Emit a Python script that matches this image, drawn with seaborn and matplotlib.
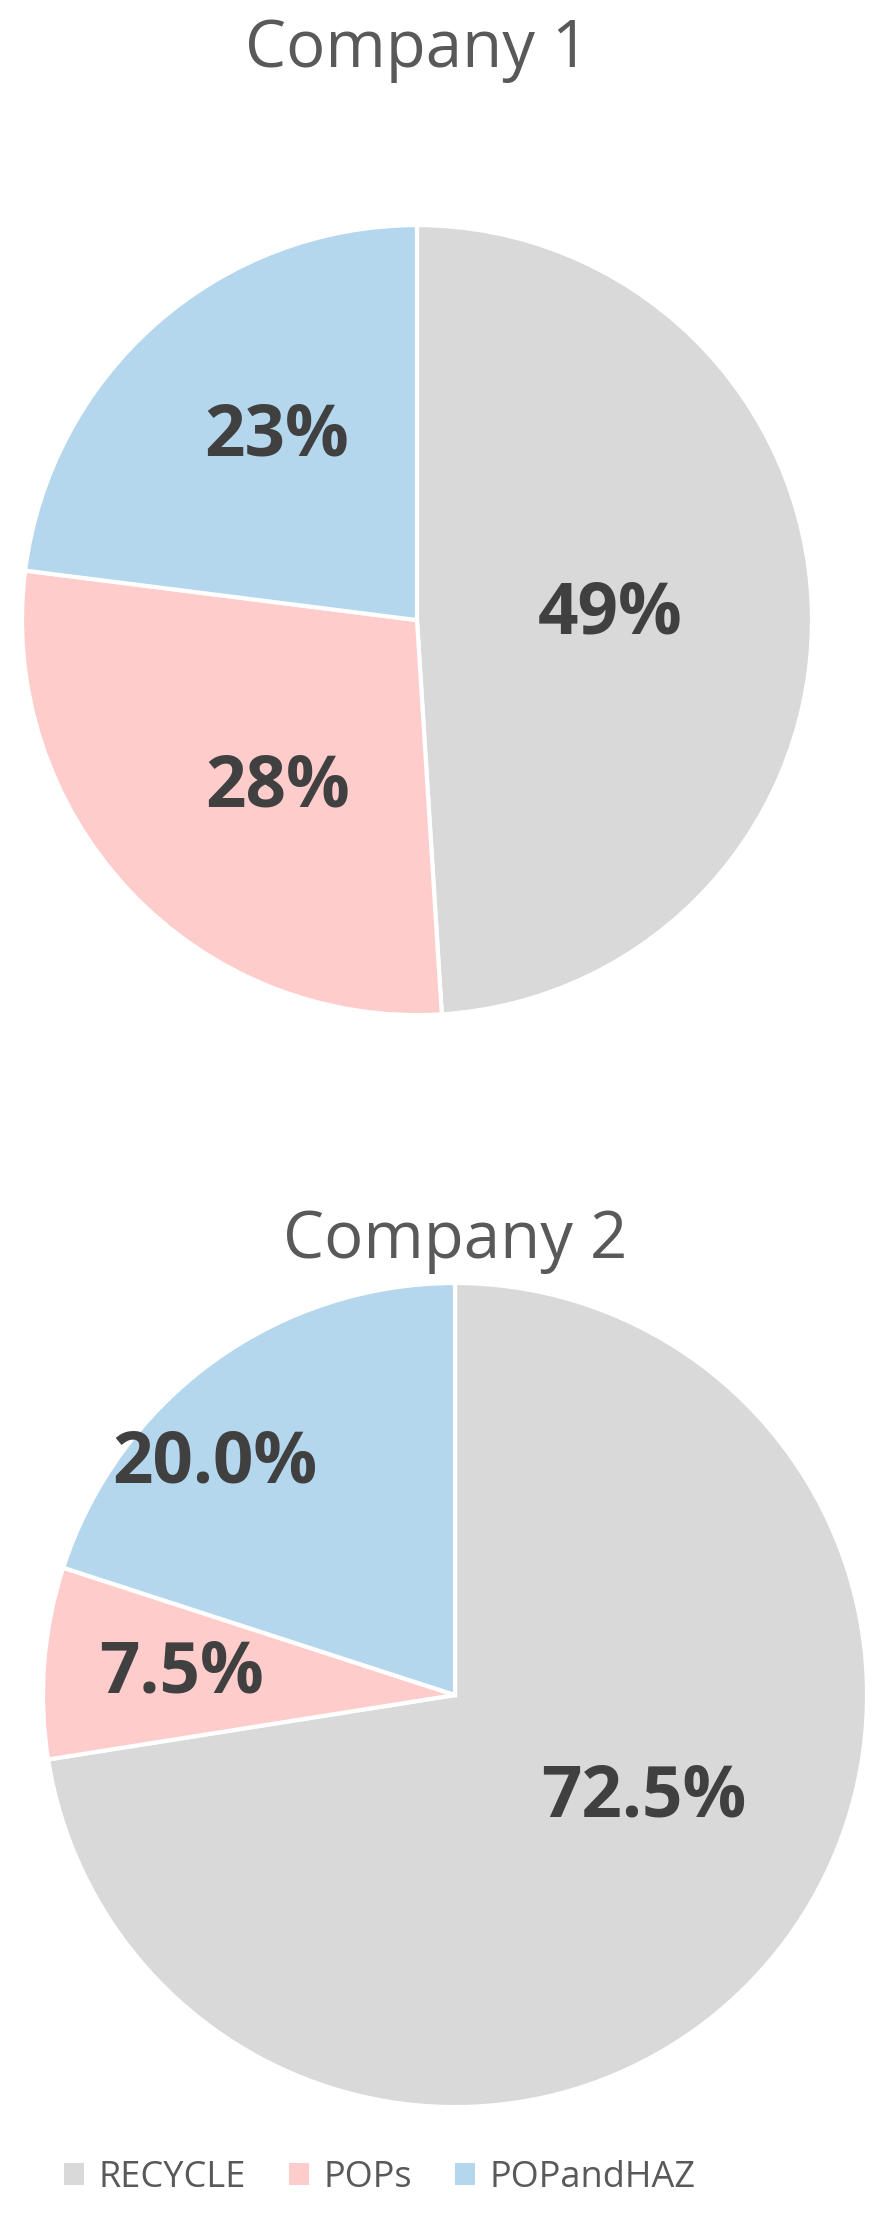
import numpy as np
import matplotlib
matplotlib.use("Agg")
import matplotlib.pyplot as plt
import seaborn as sns
from matplotlib.patches import Patch

sns.set_theme(style="white")
plt.rcParams['font.family'] = ['Open Sans', 'DejaVu Sans']

categories = ["RECYCLE", "POPs", "POPandHAZ"]
colors = sns.color_palette(["#D9D9D9", "#FFCCCC", "#B4D7EE"])
company1 = [49, 28, 23]
company1_labels = ["49%", "28%", "23%"]
company2 = [72.5, 7.5, 20.0]
company2_labels = ["72.5%", "7.5%", "20.0%"]
# label placement: fraction of radius, and angle nudge (deg) from wedge middle
dist1 = [0.49, 0.55, 0.585]
shift1 = [0, 7, -4]
dist2 = [0.52, 0.665, 0.81]
shift2 = [12, 0, 10]

fig = plt.figure(figsize=(8.83, 22.29), dpi=100)


def draw_pie(rect, vals, labels, dists, shifts, title, title_y):
    ax = fig.add_axes(rect)
    wedges, _ = ax.pie(vals, colors=colors, startangle=90, counterclock=False,
                       wedgeprops=dict(edgecolor="white", linewidth=3))
    for w, lab, d, s in zip(wedges, labels, dists, shifts):
        ang = np.deg2rad((w.theta1 + w.theta2) / 2 + s)
        ax.text(d * np.cos(ang), d * np.sin(ang), lab, ha="center", va="center",
                fontsize=51, fontweight="bold", color="#404040")
    ax.set_xlim(-1, 1)
    ax.set_ylim(-1, 1)
    ax.set_aspect("equal")
    ax.axis("off")
    fig.text(rect[0] + rect[2] / 2, title_y, title, ha="center", va="center",
             fontsize=47, color="#595959")


draw_pie([0.0249, 0.5446, 0.8947, 0.3544], company1, company1_labels, dist1, shift1,
         "Company 1", 1 - 50 / 2229)
draw_pie([0.0487, 0.0547, 0.9332, 0.3697], company2, company2_labels, dist2, shift2,
         "Company 2", 1 - 1241 / 2229)

handles = [Patch(facecolor=c, edgecolor="none") for c in colors]
fig.legend(handles, categories, loc="center", bbox_to_anchor=(0.43, 1 - 2178 / 2229),
           ncol=3, frameon=False, fontsize=26, handlelength=0.55, handleheight=0.55,
           handletextpad=0.4, columnspacing=1.2, labelcolor="#595959")

fig.savefig("out.png", dpi=100)
